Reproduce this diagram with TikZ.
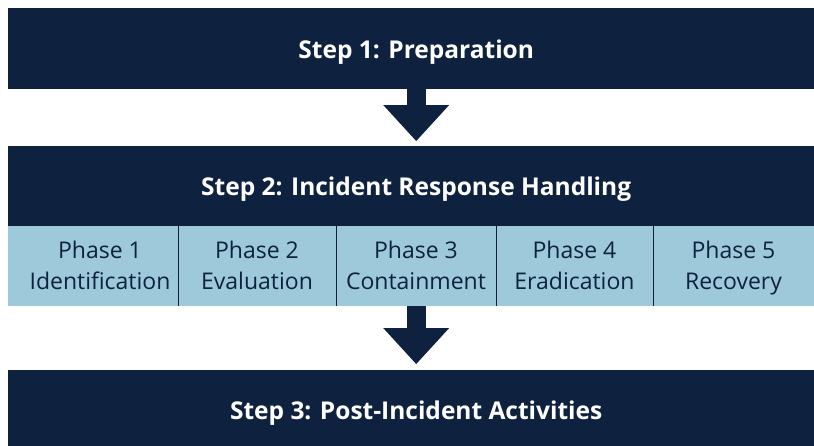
\documentclass[tikz,border=0pt]{standalone}
\usepackage{fontspec}
\setmainfont{Open Sans}
\usetikzlibrary{arrows.meta,positioning}
\definecolor{navy}{HTML}{0E2240}
\definecolor{paleblue}{HTML}{9DC9DA}
\tikzset{
  stepbox/.style={fill=navy, text=white, font=\fontsize{24.5}{28}\selectfont\bfseries,
    minimum width=816pt, minimum height=81pt, inner sep=0pt, text depth=0pt, anchor=north west},
  phasetext/.style={text=navy, font=\fontsize{23}{31}\selectfont, align=center, inner sep=0pt,
    execute at begin node=\strut, execute at end node=\strut},
  flow/.style={navy, line width=19pt, -{Triangle[length=36pt,width=66pt,line width=0pt]}}
}
\begin{document}
\begin{tikzpicture}[x=1pt,y=-1pt]
  \useasboundingbox (0,0) rectangle (814,445);
  \begin{scope}
    \clip (0,0) rectangle (814,445);
    % steps
    \node[stepbox] (prep) at (8,8) {Step 1: Preparation};
    \node[stepbox, minimum height=80pt] (handling) at (8,146) {Step 2: Incident Response Handling};
    \node[stepbox, fill=paleblue, minimum height=80pt] (phasebar) at (8,226) {};
    \node[stepbox, minimum height=80pt] (post) at (8,370) {Step 3: Post-Incident Activities};
    % phases
    \node[phasetext] (ph1) at (100,270) {Phase 1\\Identification};
    \node[phasetext] (ph2) at (257,270) {Phase 2\\Evaluation};
    \node[phasetext] (ph3) at (416,270) {Phase 3\\Containment};
    \node[phasetext] (ph4) at (574.5,270) {Phase 4\\Eradication};
    \node[phasetext] (ph5) at (733.5,270) {Phase 5\\Recovery};
    \foreach \x in {178,336,496,653}
      \draw[navy, line width=1pt] (\x,226) -- (\x,306);
    % arrows
    \draw[flow, shorten >=5pt] (prep.south) -- (handling.north);
    \draw[flow, shorten >=6pt] (phasebar.south) -- (post.north);
  \end{scope}
\end{tikzpicture}
\end{document}
